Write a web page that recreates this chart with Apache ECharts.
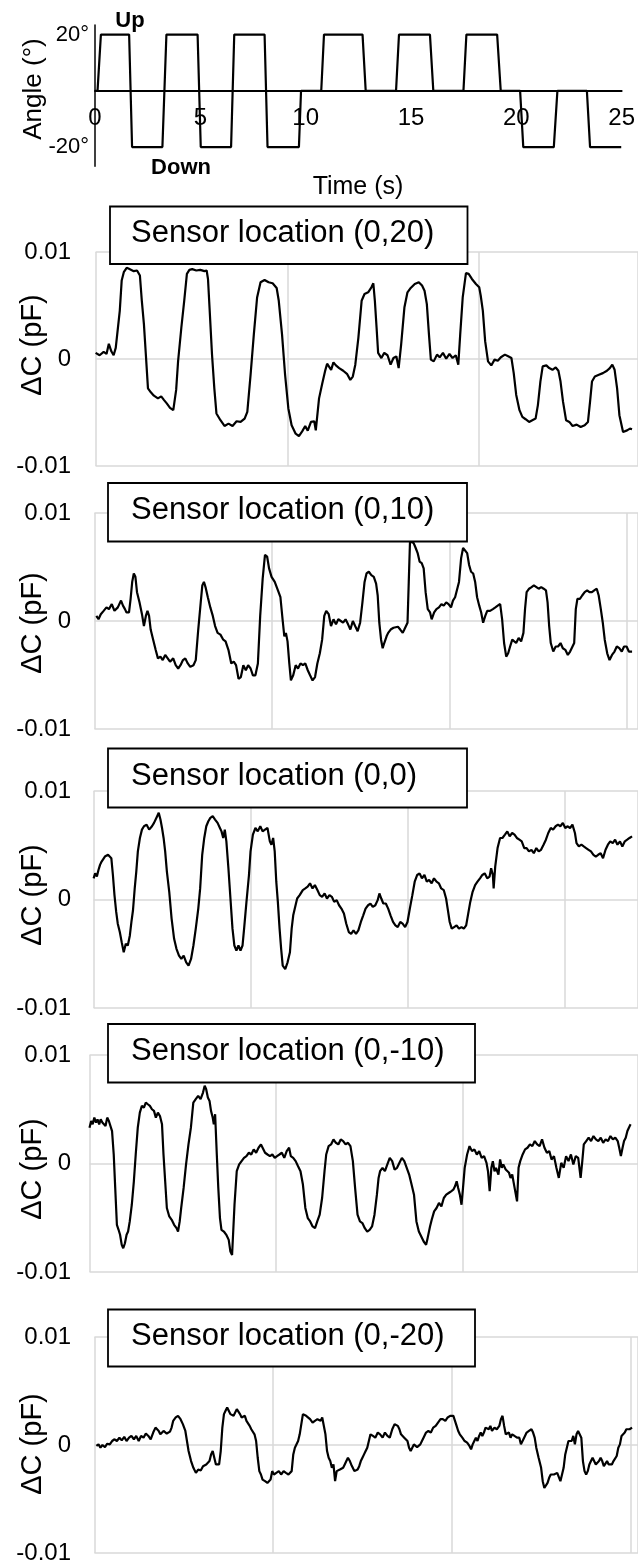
<!DOCTYPE html>
<html><head><meta charset="utf-8">
<script src="https://cdn.jsdelivr.net/npm/echarts@6/dist/echarts.min.js"></script>
<style>html,body{margin:0;padding:0;background:#fff}#c{width:638px;height:1565px}</style>
</head><body><div id="c"></div>
<script>
// ---------- DATA ----------
// Top panel: imposed angle (degrees) versus time (s)
const waveTime  = [0,0.12,0.28,1.62,1.76,3.20,3.39,4.87,5.02,6.46,6.61,8.05,8.19,9.68,9.78,10.74,10.87,12.70,12.85,14.29,14.43,15.90,16.06,17.49,17.63,19.09,19.26,20.18,20.33,21.78,21.95,23.35,23.50,24.98];
const waveAngle = [0,0,20,20,-20,-20,20,20,-20,-20,20,20,-20,-20,0,0,20,20,0,0,20,20,0,0,20,20,0,0,-20,-20,0,0,-20,-20];
const angleTicks = [-20, 20];
const sensorLabels = ['Sensor location (0,20)','Sensor location (0,10)','Sensor location (0,0)','Sensor location (0,-10)','Sensor location (0,-20)'];

// Capacitance change (pF) versus time (s), one array of [t, dC] per sensor
const sensor_0_20 = [[0,0.00057],[0.21,0.00035],[0.42,0.00066],[0.57,0.00047],[0.69,0.00142],[0.82,0.00072],[0.94,0.00035],[1.05,0.00104],[1.26,0.0045],[1.36,0.00733],[1.47,0.00811],[1.62,0.00852],[1.74,0.00843],[1.83,0.00858],[1.99,0.00821],[2.16,0.00827],[2.31,0.0078],[2.41,0.00544],[2.52,0.00324],[2.62,0.00041],[2.73,-0.00274],[2.88,-0.00311],[3.04,-0.00343],[3.25,-0.00368],[3.42,-0.00349],[3.57,-0.00384],[3.71,-0.00415],[3.88,-0.00456],[4.05,-0.00478],[4.2,-0.00289],[4.3,-0.00022],[4.47,0.00292],[4.62,0.00544],[4.76,0.00796],[4.89,0.00833],[5.04,0.0084],[5.25,0.00827],[5.46,0.00833],[5.67,0.00821],[5.79,0.00827],[5.86,0.00748],[5.94,0.00481],[6.07,0.00041],[6.19,-0.00274],[6.3,-0.00509],[6.51,-0.00572],[6.72,-0.00626],[6.93,-0.00604],[7.14,-0.00626],[7.35,-0.00582],[7.56,-0.00588],[7.77,-0.00557],[7.91,-0.00494],[8.08,-0.00148],[8.25,0.0023],[8.42,0.00575],[8.6,0.00717],[8.81,0.00739],[9.02,0.00717],[9.23,0.00708],[9.44,0.00664],[9.55,0.00544],[9.72,0.0023],[9.88,-0.00148],[10.05,-0.00462],[10.22,-0.00619],[10.43,-0.00698],[10.6,-0.0072],[10.77,-0.00676],[10.93,-0.00626],[11.06,-0.0067],[11.23,-0.00588],[11.4,-0.00582],[11.48,-0.00667],[11.65,-0.00368],[11.82,-0.00226],[11.96,-0.00116],[12.07,-0.00044],[12.17,-0.00038],[12.28,-0.00101],[12.4,-0.00031],[12.53,-0.0006],[12.7,-0.00085],[12.91,-0.0011],[13.12,-0.00142],[13.28,-0.00195],[13.41,-0.00164],[13.54,-0.00053],[13.7,0.00198],[13.87,0.00544],[14.02,0.00607],[14.21,0.00623],[14.38,0.0067],[14.48,0.00708],[14.56,0.00544],[14.65,0.00292],[14.73,0.00057],[14.9,0.00009],[15.05,0.00057],[15.22,0.00035],[15.38,-0.00053],[15.53,0.00009],[15.68,0.00025],[15.8,-0.00085],[15.93,0.00135],[16.1,0.00481],[16.26,0.00623],[16.43,0.00664],[16.64,0.00701],[16.85,0.00717],[17.02,0.00686],[17.15,0.00638],[17.27,0.00513],[17.38,0.0023],[17.48,-0.00006],[17.63,-0.00022],[17.8,0.00041],[17.94,0.00016],[18.11,0.00057],[18.28,0.00003],[18.45,0.00047],[18.61,0.00009],[18.78,0.00035],[18.91,-0.00053],[19.01,0.0023],[19.14,0.00575],[19.31,0.00802],[19.45,0.00796],[19.62,0.00748],[19.83,0.00701],[20,0.0067],[20.08,0.00591],[20.19,0.0045],[20.31,0.00167],[20.46,-0.00022],[20.63,-0.0006],[20.8,-0.00006],[20.97,-0.00016],[21.13,0.00016],[21.34,0.00041],[21.51,0.00025],[21.68,0.00009],[21.8,-0.00132],[21.93,-0.00336],[22.1,-0.00478],[22.25,-0.00541],[22.42,-0.00563],[22.6,-0.00588],[22.77,-0.00572],[22.94,-0.00557],[23.06,-0.00431],[23.19,-0.00211],[23.31,-0.00069],[23.5,-0.0006],[23.65,-0.00085],[23.82,-0.00101],[23.99,-0.00079],[24.13,-0.0011],[24.24,-0.00211],[24.37,-0.00399],[24.53,-0.00572],[24.7,-0.00588],[24.87,-0.00626],[25.08,-0.00613],[25.29,-0.00635],[25.5,-0.00619],[25.67,-0.00588],[25.78,-0.00399],[25.88,-0.00211],[26.03,-0.00164],[26.24,-0.00148],[26.45,-0.00132],[26.66,-0.0011],[26.81,-0.00085],[26.94,-0.00053],[27.06,-0.00101],[27.19,-0.00274],[27.31,-0.00525],[27.5,-0.00682],[27.71,-0.00667],[27.86,-0.00651],[27.97,-0.00657]];

const sensor_0_10 = [[0.11,0.00047],[0.23,0.00016],[0.36,0.00063],[0.52,0.00094],[0.68,0.00126],[0.82,0.0011],[0.98,0.00157],[1.13,0.00094],[1.32,0.00126],[1.5,0.00189],[1.61,0.00142],[1.72,0.0011],[1.81,0.00079],[1.95,0.00079],[2.04,0.00204],[2.13,0.00362],[2.22,0.0044],[2.31,0.00409],[2.4,0.00267],[2.54,0.00173],[2.68,0.00063],[2.79,-0.00047],[2.9,0.00047],[2.99,0.00094],[3.08,0.00047],[3.17,-0.00079],[3.31,-0.00173],[3.45,-0.00267],[3.58,-0.00346],[3.72,-0.0033],[3.85,-0.00362],[3.99,-0.00314],[4.13,-0.00346],[4.26,-0.00377],[4.44,-0.00346],[4.58,-0.00409],[4.72,-0.0044],[4.85,-0.00409],[4.99,-0.00362],[5.12,-0.00346],[5.26,-0.00393],[5.4,-0.00425],[5.58,-0.00409],[5.71,-0.00362],[5.85,-0.00079],[5.99,0.00173],[6.08,0.0033],[6.17,0.00362],[6.26,0.00314],[6.39,0.0022],[6.53,0.00126],[6.67,0.00047],[6.8,-0.00047],[6.94,-0.0011],[7.1,-0.00126],[7.26,-0.00173],[7.39,-0.00189],[7.55,-0.00267],[7.71,-0.00393],[7.85,-0.00377],[7.98,-0.00409],[8.12,-0.00535],[8.25,-0.00519],[8.39,-0.00409],[8.53,-0.00456],[8.66,-0.00409],[8.8,-0.0044],[8.93,-0.00503],[9.07,-0.00503],[9.21,-0.00393],[9.34,0.00047],[9.48,0.00393],[9.61,0.00613],[9.73,0.00597],[9.84,0.00487],[9.98,0.00409],[10.16,0.00362],[10.34,0.00283],[10.48,0.0022],[10.61,0],[10.7,-0.00142],[10.79,-0.0011],[10.88,-0.00189],[10.98,-0.00393],[11.07,-0.0055],[11.2,-0.00503],[11.34,-0.00409],[11.47,-0.0044],[11.61,-0.00393],[11.75,-0.00409],[11.88,-0.00393],[12.02,-0.00456],[12.15,-0.00503],[12.29,-0.0055],[12.43,-0.00519],[12.56,-0.00393],[12.7,-0.00299],[12.83,-0.00173],[12.95,0.00047],[13.06,0.00094],[13.2,0.00063],[13.33,-0.00047],[13.47,0.00016],[13.61,-0.00031],[13.74,0.00016],[13.88,0],[14.01,-0.00016],[14.15,0.00016],[14.29,-0.00031],[14.42,-0.00079],[14.56,0],[14.69,-0.00047],[14.83,-0.00094],[14.97,-0.00016],[15.1,0.00173],[15.22,0.00362],[15.33,0.0044],[15.46,0.00456],[15.6,0.00425],[15.74,0.00409],[15.87,0.00346],[15.96,0.00236],[16.05,-0.00016],[16.15,-0.00173],[16.24,-0.00252],[16.33,-0.00204],[16.46,-0.00142],[16.55,-0.0011],[16.69,-0.00079],[16.85,-0.00063],[16.96,-0.00079],[17.1,-0.00053],[17.23,-0.00079],[17.37,-0.0011],[17.46,-0.00079],[17.55,-0.00063],[17.64,-0.00016],[17.71,0.00362],[17.78,0.00739],[17.87,0.00755],[17.98,0.00723],[18.1,0.00676],[18.21,0.00629],[18.32,0.0055],[18.44,0.00535],[18.55,0.00487],[18.66,0.00267],[18.78,0.0011],[18.91,0.00079],[19,0.00016],[19.14,0.00079],[19.27,0.0011],[19.41,0.00126],[19.55,0.00157],[19.68,0.00142],[19.82,0.00173],[19.95,0.00157],[20.09,0.00126],[20.2,0.00189],[20.32,0.0022],[20.43,0.00236],[20.54,0.00362],[20.66,0.00582],[20.77,0.00676],[20.88,0.00692],[21,0.00629],[21.11,0.00519],[21.22,0.00456],[21.34,0.0044],[21.45,0.00362],[21.56,0.0022],[21.68,0.00142],[21.79,0.00079],[21.9,-0.00016],[22.02,0.00047],[22.13,0.00094],[22.29,0.00094],[22.45,0.0011],[22.59,0.00126],[22.72,0.00142],[22.86,0.00157],[22.97,0.00016],[23.08,-0.00204],[23.2,-0.0033],[23.31,-0.00299],[23.42,-0.00236],[23.54,-0.00173],[23.65,-0.00189],[23.76,-0.00204],[23.9,-0.00157],[24.04,-0.00189],[24.17,-0.0011],[24.26,0.0011],[24.35,0.00267],[24.49,0.00299],[24.63,0.00314],[24.76,0.0033],[24.9,0.00314],[25.03,0.00299],[25.17,0.00314],[25.31,0.00299],[25.44,0.00283],[25.53,0.00173],[25.62,-0.00047],[25.71,-0.00204],[25.85,-0.00283],[25.99,-0.00236],[26.12,-0.00236],[26.26,-0.00204],[26.39,-0.00252],[26.53,-0.00267],[26.67,-0.00314],[26.8,-0.00283],[26.89,-0.00267],[27.03,-0.00204],[27.12,0.0011],[27.21,0.00204],[27.35,0.00204],[27.48,0.00236],[27.62,0.00267],[27.76,0.00283],[27.89,0.00267],[28.03,0.00267],[28.16,0.00283],[28.3,0.00299],[28.41,0.00236],[28.53,0.0011],[28.64,-0.00016],[28.75,-0.00173],[28.89,-0.00299],[29.02,-0.00362],[29.16,-0.00314],[29.3,-0.00283],[29.43,-0.00236],[29.57,-0.00252],[29.71,-0.00283],[29.84,-0.00236],[29.98,-0.00236],[30.11,-0.00283],[30.29,-0.00283]];

const sensor_0_0 = [[0,0.00195],[0.1,0.00241],[0.21,0.00211],[0.31,0.00272],[0.41,0.00319],[0.51,0.0035],[0.62,0.00365],[0.72,0.00396],[0.82,0.00381],[0.92,0.00412],[1.03,0.00396],[1.13,0.00381],[1.23,0.00226],[1.33,0.0004],[1.44,-0.00115],[1.54,-0.00223],[1.67,-0.003],[1.79,-0.00393],[1.92,-0.00486],[2.05,-0.00409],[2.18,-0.00424],[2.31,-0.00331],[2.41,-0.00207],[2.51,-0.00099],[2.62,0.00102],[2.72,0.00257],[2.82,0.00443],[2.95,0.00567],[3.08,0.00644],[3.21,0.00675],[3.38,0.0069],[3.54,0.00644],[3.72,0.00675],[3.85,0.00706],[3.97,0.00721],[4.05,0.00768],[4.15,0.00799],[4.26,0.00737],[4.36,0.00659],[4.46,0.00567],[4.56,0.00443],[4.67,0.00257],[4.82,0.00071],[4.97,-0.00176],[5.13,-0.00362],[5.28,-0.00455],[5.44,-0.00517],[5.59,-0.00548],[5.74,-0.00517],[5.9,-0.00579],[6.05,-0.0061],[6.21,-0.00548],[6.36,-0.00424],[6.51,-0.00269],[6.67,-0.00084],[6.79,0.00102],[6.92,0.00412],[7.05,0.00567],[7.18,0.00675],[7.31,0.00721],[7.44,0.00752],[7.59,0.00768],[7.74,0.00737],[7.9,0.00706],[8.05,0.00659],[8.15,0.00628],[8.26,0.00567],[8.36,0.00644],[8.46,0.00536],[8.59,0.00288],[8.72,0.00009],[8.85,-0.00269],[8.97,-0.00424],[9.1,-0.00471],[9.23,-0.00424],[9.36,-0.00471],[9.49,-0.00424],[9.59,-0.00269],[9.74,-0.00022],[9.9,0.00226],[10,0.00443],[10.15,0.00598],[10.31,0.00659],[10.46,0.00628],[10.62,0.00675],[10.77,0.00628],[10.92,0.00644],[11.08,0.00659],[11.23,0.00536],[11.33,0.00505],[11.44,0.00567],[11.54,0.00443],[11.64,0.00164],[11.74,-0.00022],[11.85,-0.00269],[11.95,-0.00455],[12.05,-0.0061],[12.21,-0.00641],[12.36,-0.00579],[12.51,-0.00486],[12.62,-0.00269],[12.72,-0.00146],[12.82,-0.00084],[12.97,0.00009],[13.13,0.0004],[13.33,0.00087],[13.49,0.00102],[13.64,0.00118],[13.79,0.00149],[13.95,0.00102],[14.1,0.00133],[14.26,0.00087],[14.41,0.0004],[14.56,0.00025],[14.72,0.00056],[14.87,0.00009],[15.03,0.0004],[15.18,0.00025],[15.33,-0.00022],[15.49,-0.00006],[15.64,-0.00053],[15.79,-0.00084],[15.95,-0.0013],[16.1,-0.00223],[16.26,-0.003],[16.41,-0.00316],[16.56,-0.00285],[16.72,-0.00316],[16.87,-0.00285],[17.03,-0.00207],[17.18,-0.00146],[17.33,-0.00084],[17.49,-0.00053],[17.64,-0.00037],[17.79,-0.00068],[17.95,-0.00053],[18.1,-0.00006],[18.21,0.00056],[18.33,0.00009],[18.46,-0.00037],[18.62,-0.00037],[18.77,-0.00084],[18.92,-0.00146],[19.08,-0.00207],[19.23,-0.00238],[19.38,-0.00254],[19.54,-0.00207],[19.69,-0.00223],[19.85,-0.00254],[20,-0.00207],[20.15,-0.00084],[20.31,0.0004],[20.46,0.00164],[20.62,0.00226],[20.77,0.00241],[20.92,0.00195],[21.08,0.00226],[21.23,0.00164],[21.38,0.0018],[21.54,0.00149],[21.69,0.00195],[21.85,0.00164],[22,0.00149],[22.15,0.00102],[22.31,0.00087],[22.46,0.00009],[22.56,-0.00084],[22.69,-0.00207],[22.82,-0.00269],[22.97,-0.00254],[23.13,-0.00238],[23.28,-0.00269],[23.44,-0.00254],[23.59,-0.00269],[23.74,-0.00238],[23.85,-0.00146],[24,-0.00022],[24.15,0.00071],[24.31,0.00133],[24.46,0.00164],[24.62,0.00195],[24.77,0.00226],[24.92,0.00241],[25.08,0.00195],[25.23,0.00211],[25.33,0.00288],[25.44,0.00226],[25.49,0.00102],[25.59,0.00303],[25.74,0.00474],[25.9,0.00567],[26.05,0.00567],[26.21,0.00598],[26.36,0.00628],[26.51,0.00582],[26.67,0.00613],[26.82,0.00598],[26.97,0.00567],[27.13,0.00551],[27.28,0.00536],[27.44,0.00474],[27.59,0.00474],[27.74,0.00443],[27.9,0.00458],[28.05,0.00427],[28.21,0.00474],[28.36,0.00443],[28.51,0.00458],[28.67,0.00505],[28.82,0.00551],[28.97,0.00613],[29.13,0.00659],[29.28,0.00644],[29.44,0.00675],[29.59,0.0069],[29.74,0.00675],[29.9,0.00706],[30.05,0.00659],[30.21,0.00675],[30.36,0.00659],[30.51,0.0069],[30.67,0.00613],[30.77,0.0052],[30.92,0.00489],[31.08,0.00505],[31.23,0.00489],[31.38,0.00474],[31.54,0.00458],[31.69,0.00443],[31.85,0.00412],[32,0.00396],[32.15,0.00412],[32.31,0.00427],[32.46,0.00381],[32.62,0.00458],[32.77,0.00505],[32.92,0.00536],[33.08,0.0052],[33.23,0.00551],[33.38,0.00505],[33.54,0.00536],[33.69,0.00489],[33.85,0.00536],[34,0.00551],[34.15,0.00567],[34.31,0.00582]];

const sensor_0_m10 = [[0,0.0033],[0.09,0.00392],[0.17,0.00361],[0.26,0.00423],[0.35,0.00377],[0.43,0.00407],[0.52,0.00361],[0.6,0.00407],[0.69,0.00377],[0.78,0.00392],[0.86,0.00346],[0.95,0.00423],[1.04,0.00392],[1.12,0.00377],[1.21,0.00299],[1.3,0.00083],[1.38,-0.00225],[1.47,-0.00565],[1.56,-0.00611],[1.64,-0.00657],[1.73,-0.0075],[1.81,-0.00781],[1.9,-0.00735],[1.99,-0.00657],[2.07,-0.00627],[2.16,-0.00534],[2.27,-0.0038],[2.38,-0.00164],[2.48,0.00083],[2.59,0.0033],[2.7,0.00469],[2.81,0.00531],[2.92,0.00515],[3.02,0.00562],[3.13,0.00546],[3.24,0.00531],[3.35,0.005],[3.46,0.00485],[3.56,0.00423],[3.67,0.00469],[3.78,0.00438],[3.89,0.00361],[3.97,0.00083],[4.06,-0.00164],[4.15,-0.0041],[4.28,-0.00488],[4.41,-0.00519],[4.54,-0.00565],[4.67,-0.00596],[4.75,-0.00627],[4.84,-0.00534],[4.92,-0.0041],[5.05,-0.00225],[5.18,-0.00009],[5.31,0.00176],[5.44,0.0033],[5.57,0.00562],[5.7,0.00593],[5.83,0.00623],[5.96,0.00593],[6.09,0.00654],[6.18,0.00716],[6.26,0.00685],[6.35,0.00608],[6.44,0.00577],[6.52,0.00485],[6.61,0.00423],[6.67,0.00361],[6.74,0.00454],[6.83,0.00083],[6.91,-0.00225],[7,-0.00503],[7.08,-0.00611],[7.21,-0.00627],[7.34,-0.00657],[7.47,-0.00704],[7.56,-0.00812],[7.65,-0.00843],[7.78,-0.0038],[7.9,-0.00071],[8.03,-0.00009],[8.16,0.00022],[8.29,0.00052],[8.42,0.00068],[8.55,0.00099],[8.68,0.00083],[8.81,0.0013],[8.94,0.00099],[9.07,0.00145],[9.2,0.00176],[9.29,0.0016],[9.42,0.00099],[9.55,0.00083],[9.68,0.00068],[9.81,0.00083],[9.94,0.00052],[10.06,0.00068],[10.19,0.00083],[10.32,0.00099],[10.45,0.00052],[10.58,0.00114],[10.71,0.00145],[10.8,0.00068],[10.93,0.00052],[11.06,0.00022],[11.19,-0.00025],[11.32,-0.00071],[11.45,-0.00194],[11.58,-0.0041],[11.71,-0.00503],[11.84,-0.00534],[11.97,-0.0058],[12.1,-0.00596],[12.22,-0.00534],[12.35,-0.00472],[12.48,-0.00318],[12.61,-0.00071],[12.7,0.00083],[12.83,0.0016],[12.96,0.00176],[13.09,0.00222],[13.22,0.00191],[13.35,0.00176],[13.48,0.00222],[13.61,0.00207],[13.74,0.00176],[13.87,0.00191],[14,0.0016],[14.13,0.00022],[14.25,-0.00225],[14.38,-0.00472],[14.51,-0.00534],[14.64,-0.00549],[14.77,-0.00596],[14.9,-0.00627],[15.03,-0.00611],[15.16,-0.0058],[15.29,-0.00472],[15.42,-0.00287],[15.51,-0.00133],[15.59,-0.00071],[15.72,-0.0004],[15.85,-0.00071],[15.98,-0.00009],[16.11,0.00052],[16.24,0.00022],[16.37,-0.00056],[16.5,-0.0004],[16.63,0.00006],[16.76,0.00052],[16.89,0.00022],[17.02,-0.0004],[17.15,-0.00102],[17.28,-0.00194],[17.41,-0.00287],[17.54,-0.00534],[17.67,-0.00627],[17.8,-0.00673],[17.93,-0.00719],[18.06,-0.0075],[18.14,-0.00688],[18.27,-0.0058],[18.36,-0.00519],[18.49,-0.00441],[18.62,-0.0041],[18.75,-0.00364],[18.88,-0.00395],[19.01,-0.00318],[19.14,-0.00287],[19.27,-0.00272],[19.4,-0.00256],[19.52,-0.00241],[19.61,-0.0021],[19.7,-0.00164],[19.78,-0.00225],[19.87,-0.00287],[19.96,-0.0038],[20.04,-0.00225],[20.13,-0.0004],[20.26,0.00083],[20.39,0.0016],[20.52,0.00114],[20.65,0.0013],[20.78,0.00083],[20.91,0.00114],[21.04,0.00052],[21.17,0.00068],[21.3,0.00006],[21.38,-0.00071],[21.47,-0.00256],[21.56,-0.0004],[21.64,0.00022],[21.73,-0.00071],[21.81,-0.0004],[21.94,-0.00102],[22.03,0.00037],[22.12,-0.0004],[22.2,-0.00009],[22.33,-0.00056],[22.42,-0.0004],[22.51,-0.00086],[22.59,-0.00133],[22.68,-0.00102],[22.76,-0.00179],[22.85,-0.00164],[22.94,-0.00349],[23.02,-0.0004],[23.11,0.00022],[23.24,0.00083],[23.37,0.0013],[23.5,0.00145],[23.63,0.00176],[23.76,0.0016],[23.89,0.00207],[24.02,0.00176],[24.15,0.0016],[24.28,0.00222],[24.41,0.00145],[24.54,0.00099],[24.67,0.00114],[24.79,0.00037],[24.92,0.00068],[25.05,-0.0004],[25.18,-0.00133],[25.31,0.00006],[25.44,-0.0004],[25.57,0.00068],[25.7,0.00022],[25.83,0.00083],[25.96,-0.00009],[26.09,0.00068],[26.22,0.00052],[26.35,-0.00133],[26.44,0.00022],[26.52,0.00176],[26.65,0.00207],[26.78,0.00238],[26.91,0.00207],[27.04,0.00253],[27.17,0.00222],[27.3,0.00207],[27.43,0.00238],[27.56,0.00191],[27.69,0.00222],[27.82,0.00207],[27.95,0.00253],[28.08,0.00222],[28.21,0.00238],[28.34,0.00207],[28.42,0.00145],[28.51,0.00068],[28.6,0.00145],[28.68,0.00207],[28.77,0.00238],[28.86,0.00299],[28.94,0.0033],[29.03,0.00361]];

const sensor_0_m20 = [[0.11,-0.00009],[0.23,0.00006],[0.34,-0.00025],[0.45,0],[0.59,-0.00019],[0.72,0.00012],[0.86,0.00006],[0.99,0.00037],[1.13,0.00053],[1.26,0.00037],[1.4,0.00068],[1.53,0.00043],[1.67,0.00075],[1.8,0.00037],[1.94,0.00068],[2.07,0.00084],[2.21,0.00053],[2.34,0.00084],[2.48,0.00037],[2.61,0.00084],[2.75,0.00068],[2.88,0.00106],[3.02,0.00084],[3.15,0.00053],[3.29,0.00115],[3.42,0.00161],[3.51,0.00177],[3.6,0.0013],[3.69,0.00099],[3.78,0.00115],[3.87,0.0013],[3.96,0.00115],[4.05,0.00106],[4.14,0.00115],[4.23,0.00124],[4.32,0.00161],[4.41,0.00224],[4.55,0.00255],[4.68,0.0027],[4.82,0.00239],[4.95,0.00193],[5.09,0.0013],[5.18,0.00037],[5.27,-0.00056],[5.41,-0.00149],[5.54,-0.00211],[5.68,-0.00258],[5.81,-0.00227],[5.95,-0.00236],[6.08,-0.00196],[6.17,-0.00211],[6.26,-0.0018],[6.35,-0.00196],[6.44,-0.00149],[6.53,-0.00087],[6.62,-0.00056],[6.71,-0.00118],[6.8,-0.0018],[6.89,-0.00196],[6.98,-0.0018],[7.07,-0.00056],[7.16,0.00161],[7.25,0.00286],[7.34,0.00317],[7.43,0.00348],[7.52,0.00317],[7.61,0.00286],[7.7,0.00301],[7.79,0.0027],[7.88,0.00286],[7.97,0.00332],[8.06,0.00317],[8.15,0.00286],[8.24,0.00255],[8.33,0.00239],[8.42,0.0027],[8.51,0.00224],[8.6,0.00208],[8.69,0.00177],[8.78,0.00146],[8.87,0.00161],[8.96,0.00099],[9.05,0.00037],[9.14,-0.00118],[9.23,-0.00242],[9.32,-0.00273],[9.41,-0.0032],[9.55,-0.00335],[9.68,-0.00351],[9.77,-0.00335],[9.86,-0.0032],[9.95,-0.00242],[10.05,-0.00273],[10.18,-0.00258],[10.32,-0.00242],[10.45,-0.00273],[10.59,-0.00242],[10.72,-0.00258],[10.86,-0.00273],[10.95,-0.00289],[11.04,-0.00242],[11.13,-0.00087],[11.22,-0.00025],[11.31,-0.00009],[11.4,0.00037],[11.49,0.00099],[11.58,0.00193],[11.67,0.00286],[11.76,0.00301],[11.85,0.0027],[11.94,0.00255],[12.07,0.00239],[12.21,0.00208],[12.34,0.00224],[12.48,0.00239],[12.57,0.00255],[12.66,0.00224],[12.75,0.00255],[12.84,0.00239],[12.93,0.00099],[13.02,-0.00056],[13.11,-0.00118],[13.2,-0.00149],[13.29,-0.00211],[13.38,-0.0018],[13.47,-0.00335],[13.56,-0.00242],[13.65,-0.00258],[13.74,-0.00227],[13.83,-0.00242],[13.92,-0.00211],[14.01,-0.0018],[14.1,-0.00149],[14.19,-0.00118],[14.28,-0.00143],[14.37,-0.0018],[14.46,-0.00211],[14.55,-0.00242],[14.64,-0.00242],[14.73,-0.00227],[14.82,-0.00196],[14.91,-0.00149],[15,-0.00118],[15.09,-0.00087],[15.18,-0.00056],[15.27,-0.00025],[15.36,0.00037],[15.45,0.00099],[15.59,0.00084],[15.72,0.00068],[15.86,0.00115],[15.99,0.00099],[16.13,0.00068],[16.26,0.00115],[16.4,0.00084],[16.53,0.00068],[16.67,0.00146],[16.8,0.00193],[16.89,0.00208],[16.98,0.00177],[17.07,0.00146],[17.16,0.00099],[17.25,0.00084],[17.34,0.00068],[17.43,0.00068],[17.52,0.00037],[17.61,-0.00025],[17.7,-0.00056],[17.79,-0.00025],[17.88,0.00006],[17.97,0.00022],[18.06,-0.00019],[18.15,-0.00025],[18.24,0.00006],[18.33,0.00037],[18.42,0.00068],[18.56,0.00115],[18.69,0.0013],[18.83,0.00115],[18.96,0.00161],[19.1,0.00177],[19.23,0.00208],[19.37,0.00239],[19.5,0.00239],[19.64,0.00224],[19.77,0.00255],[19.91,0.0027],[20,0.00286],[20.09,0.0027],[20.18,0.00224],[20.27,0.00177],[20.36,0.0013],[20.45,0.00099],[20.59,0.00068],[20.72,0.00037],[20.86,0.00022],[20.99,-0.00009],[21.08,-0.0004],[21.17,0.00006],[21.26,0.00037],[21.35,0.00068],[21.44,0.00037],[21.53,0.00084],[21.62,0.00115],[21.71,0.00084],[21.8,0.00115],[21.89,0.00161],[21.98,0.00177],[22.07,0.00146],[22.16,0.00177],[22.25,0.0013],[22.39,0.00161],[22.52,0.00146],[22.66,0.00177],[22.75,0.00239],[22.84,0.0027],[22.93,0.00177],[23.02,0.00099],[23.11,0.00084],[23.2,0.00115],[23.29,0.00068],[23.38,0.00099],[23.51,0.00084],[23.65,0.00068],[23.78,0.00068],[23.87,0.00006],[23.96,0.00022],[24.05,0.00068],[24.19,0.00115],[24.32,0.0013],[24.46,0.00146],[24.55,0.00115],[24.64,0.00068],[24.73,-0.00025],[24.86,-0.00118],[25,-0.00211],[25.09,-0.00335],[25.18,-0.00398],[25.27,-0.00382],[25.36,-0.00351],[25.45,-0.00304],[25.54,-0.00273],[25.63,-0.00258],[25.72,-0.00273],[25.81,-0.00289],[25.9,-0.00258],[25.99,-0.00273],[26.08,-0.00335],[26.17,-0.00351],[26.26,-0.00211],[26.35,-0.00087],[26.44,-0.00025],[26.53,0.00037],[26.62,0.00022],[26.71,0.00037],[26.8,0.00084],[26.89,0.00006],[26.98,0.00099],[27.07,0.0013],[27.16,0.00115],[27.25,0.00068],[27.34,-0.00149],[27.43,-0.00242],[27.52,-0.00273],[27.61,-0.00242],[27.7,-0.0018],[27.79,-0.00149],[27.88,-0.00118],[27.97,-0.00134],[28.06,-0.0018],[28.15,-0.00165],[28.24,-0.00149],[28.33,-0.00118],[28.42,-0.00149],[28.51,-0.00196],[28.6,-0.0018],[28.69,-0.00149],[28.78,-0.0018],[28.87,-0.00196],[28.96,-0.0018],[29.05,-0.00149],[29.14,-0.00134],[29.23,-0.00102],[29.32,-0.00025],[29.41,0.00006],[29.5,0.00084],[29.59,0.00099],[29.68,0.00115],[29.77,0.00146],[29.86,0.0013],[29.95,0.00146],[30.09,0.00161]];

// ---------- LAYOUT ----------
const FONT = '"Liberation Sans", Arial, Helvetica, sans-serif';
const GRID = '#d9d9d9';
const panels = [
  {data: sensor_0_20,  left: 95.6, top: 252,  height: 214, tEnd: 27.97, box: [110, 206.5, 357.5, 57.5], nameY: 345},
  {data: sensor_0_10,  left: 94.4, top: 513,  height: 216, tEnd: 30.29, box: [108, 483, 359, 58.5],     nameY: 623},
  {data: sensor_0_0,   left: 93.6, top: 791,  height: 217, tEnd: 34.31, box: [108, 748.5, 359, 59],     nameY: 895},
  {data: sensor_0_m10, left: 89.5, top: 1055, height: 217, tEnd: 29.11, box: [108, 1024, 367, 58.5],    nameY: 1169},
  {data: sensor_0_m20, left: 94.4, top: 1337, height: 216, tEnd: 30.09, box: [108, 1309.5, 367, 57],    nameY: 1444}
];
const RIGHT_EDGE = 638, OVERHANG = 644;

// top panel: grid 25..166.2 px for -26.8..23.4 deg, zero line at 90.8 px
const TOP_GRID = {left: 95, top: 25, width: 530, height: 141.2};
const ZERO_OFFSET = -75.4;   // lifts the time axis from the grid bottom to the 0° line
const grid = [TOP_GRID];
const xAxis = [{
  gridIndex: 0, type: 'value', min: 0, max: 25, interval: 5, offset: ZERO_OFFSET,
  axisLine: {show: true, onZero: false, lineStyle: {color: '#000', width: 2}},
  axisTick: {show: false}, splitLine: {show: false},
  axisLabel: {fontSize: 24, color: '#000', fontFamily: FONT, margin: 16}
}];
const yAxis = [{
  gridIndex: 0, type: 'value', min: -26.8, max: 23.4,
  axisLine: {show: true, onZero: false, lineStyle: {color: '#000', width: 1.5}},
  axisTick: {show: false}, splitLine: {show: false},
  axisLabel: {customValues: angleTicks, formatter: v => v + '°', fontSize: 22, color: '#000', fontFamily: FONT, margin: 6}
}];
const series = [{
  type: 'line', xAxisIndex: 0, yAxisIndex: 0,
  data: waveTime.map((t, i) => [t, waveAngle[i]]),
  symbol: 'none', lineStyle: {color: '#000', width: 2.2}, z: 5
}];
const graphic = [
  {type: 'text', x: 34, y: 89, rotation: Math.PI / 2, z: 100,
   style: {text: 'Angle (°)', font: '26px ' + FONT, fill: '#000', align: 'center', verticalAlign: 'middle'}},
  {type: 'text', x: 130, y: 21, z: 100,
   style: {text: 'Up', font: 'bold 22px ' + FONT, fill: '#000', align: 'center', verticalAlign: 'middle'}},
  {type: 'text', x: 181, y: 168, z: 100,
   style: {text: 'Down', font: 'bold 22px ' + FONT, fill: '#000', align: 'center', verticalAlign: 'middle'}},
  {type: 'text', x: 358, y: 187, z: 100,
   style: {text: 'Time (s)', font: '25px ' + FONT, fill: '#000', align: 'center', verticalAlign: 'middle'}}
];

panels.forEach((p, k) => {
  const gi = k + 1;
  const width = OVERHANG - p.left;
  grid.push({left: p.left, top: p.top, width: width, height: p.height});
  xAxis.push({
    gridIndex: gi, type: 'value', min: 0, max: p.tEnd * width / (RIGHT_EDGE - p.left), interval: 10,
    axisLine: {show: false}, axisTick: {show: false}, axisLabel: {show: false},
    splitLine: {show: true, lineStyle: {color: GRID, width: 1.5}}
  });
  yAxis.push({
    gridIndex: gi, type: 'value', min: -0.01, max: 0.01, interval: 0.01,
    axisLine: {show: false}, axisTick: {show: false},
    axisLabel: {fontSize: 24, color: '#000', fontFamily: FONT, margin: p.left - 71},
    splitLine: {show: true, lineStyle: {color: GRID, width: 1.5}}
  });
  series.push({
    type: 'line', xAxisIndex: gi, yAxisIndex: gi, data: p.data,
    symbol: 'none', lineStyle: {color: '#000', width: 2.2}, clip: true, z: 5
  });
  const b = p.box;
  graphic.push({type: 'rect', z: 100, shape: {x: b[0], y: b[1], width: b[2], height: b[3]},
    style: {fill: '#fff', stroke: '#000', lineWidth: 1.8}});
  graphic.push({type: 'text', z: 101, x: 131, y: b[1] + b[3] / 2 - 1.5,
    style: {text: sensorLabels[k], font: '31px ' + FONT, fill: '#000', align: 'left', verticalAlign: 'middle'}});
  graphic.push({type: 'text', z: 100, x: 33, y: p.nameY, rotation: Math.PI / 2,
    style: {text: 'ΔC (pF)', font: '29px ' + FONT, fill: '#000', align: 'center', verticalAlign: 'middle'}});
});

const chart = echarts.init(document.getElementById('c'), null, {renderer: 'canvas', width: 638, height: 1565});
chart.setOption({
  animation: false,
  backgroundColor: '#fff',
  grid, xAxis, yAxis, series, graphic
});
</script></body></html>
